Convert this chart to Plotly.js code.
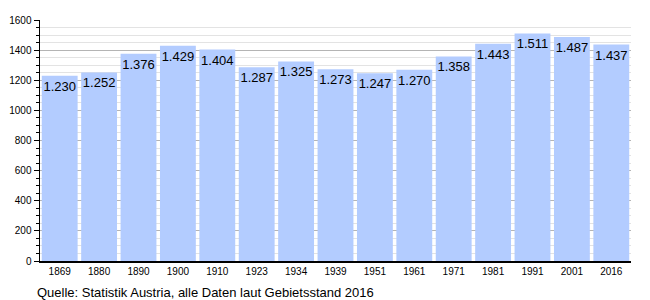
<!DOCTYPE html>
<html>
<head>
<meta charset="utf-8">
<script src="https://cdn.plot.ly/plotly-3.0.1.min.js"></script>
<style>html,body{margin:0;padding:0;background:#fff;}#chart{width:650px;height:300px;}</style>
</head>
<body>
<div id="chart"></div>
<script>
const years = ["1869","1880","1890","1900","1910","1923","1934","1939","1951","1961","1971","1981","1991","2001","2016"];
const population = [1230,1252,1376,1429,1404,1287,1325,1273,1247,1270,1358,1443,1511,1487,1437];
const labels = population.map(v => { const s = String(v); return s.length > 3 ? s.slice(0, s.length-3) + "." + s.slice(-3) : s; });
const caption = "Quelle: Statistik Austria, alle Daten laut Gebietsstand 2016";

const font = "Liberation Sans, Arial, sans-serif";
Plotly.newPlot("chart", [{
  type: "bar",
  x: years,
  y: population,
  text: labels,
  textposition: "inside",
  insidetextanchor: "end",
  constraintext: "none",
  textangle: 0,
  textfont: {family: font, size: 13, color: "#000"},
  marker: {color: "#b3ccff", line: {width: 0}},
  hoverinfo: "none",
  cliponaxis: false
}], {
  width: 650, height: 300,
  margin: {l: 40, r: 19, t: 20, b: 39},
  paper_bgcolor: "#fff", plot_bgcolor: "#fff",
  bargap: 0.09,
  showlegend: false,
  font: {family: font, color: "#000"},
  xaxis: {
    type: "category",
    showline: true, linecolor: "#000", linewidth: 1.5,
    ticks: "", showgrid: false,
    tickfont: {family: font, size: 10, color: "#000"},
    fixedrange: true
  },
  yaxis: {
    range: [0, 1600],
    dtick: 200, tick0: 0,
    showline: true, linecolor: "#000", linewidth: 1.5,
    ticks: "outside", ticklen: 5, tickcolor: "#000", tickwidth: 1,
    gridcolor: "#b4b4b4", gridwidth: 1,
    zeroline: false,
    tickfont: {family: font, size: 10, color: "#000"},
    minor: {dtick: 50, ticks: "outside", ticklen: 3, tickcolor: "#000", showgrid: true, gridcolor: "#e3e3e3", gridwidth: 1},
    fixedrange: true
  },
  annotations: [{
    text: caption,
    xref: "paper", yref: "paper",
    x: -5/591, y: -31/241,
    xanchor: "left", yanchor: "middle",
    showarrow: false,
    font: {family: font, size: 13, color: "#000"}
  }]
}, {displayModeBar: false, staticPlot: true});
</script>
</body>
</html>
